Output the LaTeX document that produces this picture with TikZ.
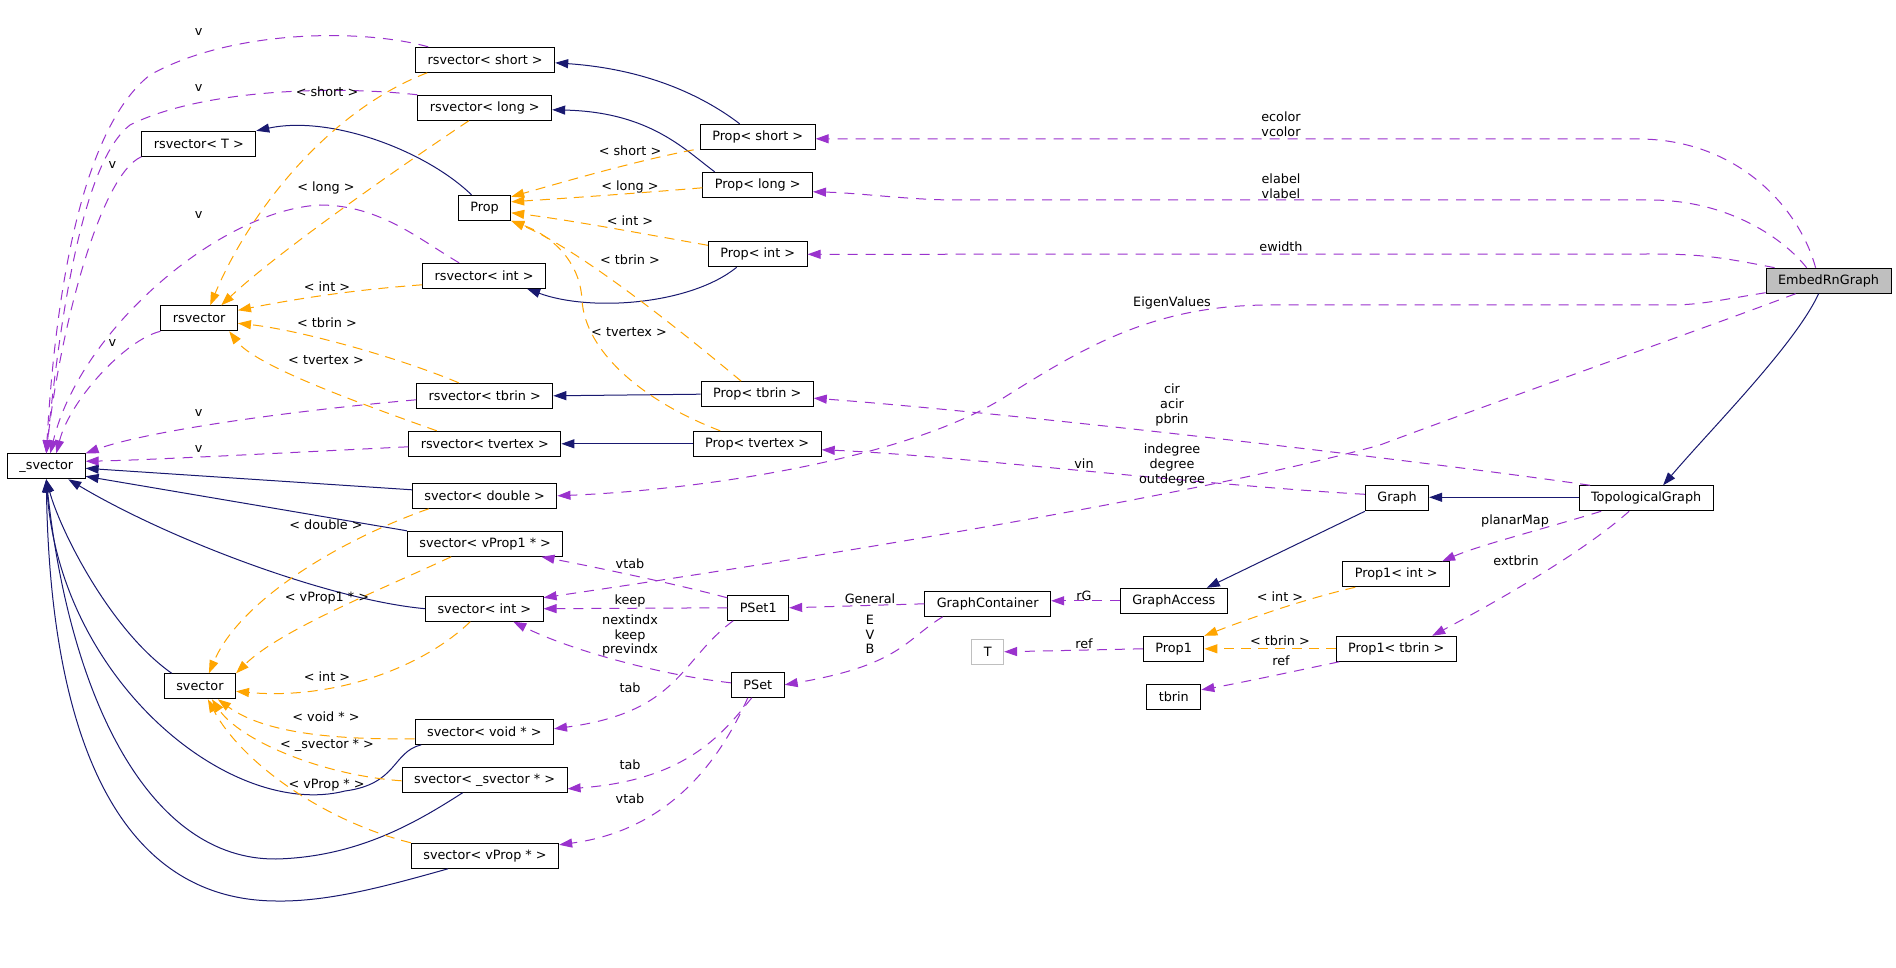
\documentclass[tikz,border=0pt]{standalone}
\usepackage{fontspec}
\setmainfont{DejaVu Sans}
\usetikzlibrary{arrows.meta}
\definecolor{inhblue}{RGB}{25,25,112}
\definecolor{usepurple}{RGB}{154,50,205}
\definecolor{tplorange}{RGB}{255,165,0}
\definecolor{boxgrey}{RGB}{191,191,191}
\newcommand{\dxfont}{\fontsize{12.8}{14.8}\selectfont}
\tikzset{
  cls/.style={rectangle, draw=black, fill=white, font=\dxfont,
    inner xsep=12pt, inner ysep=0pt, minimum height=25pt, line width=1pt},
  curcls/.style={cls, fill=boxgrey},
  extcls/.style={cls, draw=boxgrey},
  inh/.style={-{Triangle[length=13pt,width=9pt]}, color=inhblue, line width=1pt},
  usage/.style={-{Triangle[length=13pt,width=9pt]}, color=usepurple,
    line width=1pt, dash pattern=on 10pt off 8pt},
  tpl/.style={-{Triangle[length=13pt,width=9pt]}, color=tplorange,
    line width=1pt, dash pattern=on 10pt off 7pt},
  lbl/.style={font=\dxfont, inner sep=0pt, align=center}
}
\begin{document}
\begin{tikzpicture}[x=1pt, y=-1pt]
  \fill[white] (0,0) rectangle (1896,968);
  \useasboundingbox (0,0) rectangle (1896,968);

  % Templates
  \node[cls] (svec) at (46.3,466.3) {\_svector};
  \node[cls] (rsvT) at (198.8,143.8) {rsvector< T >};
  \node[cls] (rsv)  at (199.2,318.3) {rsvector};
  \node[cls] (sv)   at (199.9,686.3) {svector};
  \node[cls] (prop) at (484.5,207.8) {Prop};

  % rsvector instances
  \node[cls] (rsvshort)   at (485.2,59.8)  {rsvector< short >};
  \node[cls] (rsvlong)    at (484.8,107.8) {rsvector< long >};
  \node[cls] (rsvint)     at (484.1,275.8) {rsvector< int >};
  \node[cls] (rsvtbrin)   at (484.7,395.8) {rsvector< tbrin >};
  \node[cls] (rsvtvertex) at (484.8,443.8) {rsvector< tvertex >};

  % svector instances
  \node[cls] (svdouble) at (484.7,495.8) {svector< double >};
  \node[cls] (svvprop1) at (485.2,543.8) {svector< vProp1 * >};
  \node[cls] (svint)    at (484.3,608.7) {svector< int >};
  \node[cls] (svvoid)   at (484.3,731.8) {svector< void * >};
  \node[cls] (svsvec)   at (484.6,779.8) {svector< \_svector * >};
  \node[cls] (svvprop)  at (485,855.8)   {svector< vProp * >};

  % Prop instances
  \node[cls] (propshort)   at (757.7,136.8) {Prop< short >};
  \node[cls] (proplong)    at (757.7,184.8) {Prop< long >};
  \node[cls] (propint)     at (757.7,254.3) {Prop< int >};
  \node[cls] (proptbrin)   at (757.2,394.2) {Prop< tbrin >};
  \node[cls] (proptvertex) at (757.2,443.8) {Prop< tvertex >};

  % Sets
  \node[cls] (pset1) at (758.2,607.8) {PSet1};
  \node[cls] (pset)  at (757.8,684.8) {PSet};

  % Graph classes
  \node[cls] (gcont)     at (987.7,603.8)  {GraphContainer};
  \node[cls] (gacc)      at (1173.8,600.8) {GraphAccess};
  \node[extcls] (tT)     at (987.7,651.8)  {T};
  \node[cls] (prop1)     at (1173.6,648.8) {Prop1};
  \node[cls] (tbrin)     at (1173.8,696.8) {tbrin};
  \node[cls] (graph)     at (1397,498.3)   {Graph};
  \node[cls] (prop1int)  at (1396.2,574.3) {Prop1< int >};
  \node[cls] (prop1tbrin) at (1396.2,648.8) {Prop1< tbrin >};
  \node[cls] (topo)      at (1646.1,498.3) {TopologicalGraph};
  \node[curcls] (embed)  at (1828.6,280.7) {EmbedRnGraph};

  % Inheritance
  \draw[inh] ([xshift=-18pt]propshort.north) .. controls (715,105) and (660,70) .. ([yshift=-3pt]rsvshort.east);
  \draw[inh] ([xshift=-43pt]proplong.north) .. controls (685,150) and (650,112) .. ([yshift=-2pt]rsvlong.east);
  \draw[inh] ([xshift=-13pt]prop.north) .. controls (425,150) and (330,115) .. (rsvT.north east);
  \draw[inh] ([xshift=-21pt]propint.south) .. controls (690,305) and (590,312) .. ([xshift=43pt]rsvint.south);
  \draw[inh] (proptbrin.west) -- (rsvtbrin.east);
  \draw[inh] (proptvertex.west) -- (rsvtvertex.east);
  \draw[inh] ([yshift=6pt]svdouble.west) -- ([yshift=-2pt]svec.east);
  \draw[inh] (svvprop1.north west) -- ([yshift=-10pt]svec.east);
  \draw[inh] (svint.west) .. controls (330,600) and (170,540) .. ([xshift=22pt]svec.south);
  \draw[inh] ([xshift=8pt]sv.north west) .. controls (110,630) and (60,530) .. (svec.south);
  \draw[inh] ([xshift=-63pt]svvoid.south) .. controls (392,752) and (398,784) .. (345,791)
    .. controls (230,820) and (60,680) .. (svec.south);
  \draw[inh] ([xshift=-22pt]svsvec.south) .. controls (420,820) and (360,857) .. (276,859)
    .. controls (150,860) and (70,700) .. (svec.south);
  \draw[inh] ([xshift=-37pt]svvprop.south) .. controls (390,885) and (330,902) .. (276,901)
    .. controls (110,900) and (50,720) .. (svec.south);
  \draw[inh] ([yshift=1pt]topo.west) -- ([yshift=1pt]graph.east);
  \draw[inh] (graph.south west) -- ([xshift=33pt]gacc.north);
  \draw[inh] ([xshift=-10pt]embed.south) .. controls (1795,345) and (1710,430) .. ([xshift=17pt]topo.north);

  % Usage
  \draw[usage] ([xshift=13pt]rsvshort.north west) .. controls (360,28) and (230,30) .. (150,75)
    .. controls (80,130) and (55,300) .. (svec.north);
  \draw[usage] (rsvlong.north west) .. controls (330,85) and (200,90) .. (130,125)
    .. controls (85,160) and (62,300) .. (svec.north);
  \draw[usage] (rsvT.south west) .. controls (100,175) and (60,330) .. (svec.north);
  \draw[usage] ([xshift=-25pt]rsvint.north) .. controls (420,240) and (380,205) .. (320,205)
    .. controls (220,210) and (80,330) .. ([xshift=4pt]svec.north);
  \draw[usage] (rsv.south west) .. controls (125,340) and (70,400) .. ([xshift=10pt]svec.north);
  \draw[usage] ([yshift=-4pt]rsvtbrin.west) .. controls (300,410) and (150,430) .. (svec.north east);
  \draw[usage] ([yshift=-3pt]rsvtvertex.west) .. controls (300,452) and (150,460) .. ([yshift=5pt]svec.east);
  \draw[usage] ([xshift=-13pt]embed.north) .. controls (1800,210) and (1740,140) .. (1640,139)
    -- ([yshift=-2pt]propshort.east);
  \draw[usage] ([xshift=-22pt]embed.north) .. controls (1785,240) and (1730,200) .. (1650,200)
    -- (950,200) .. controls (900,199) and (860,193) .. ([yshift=-7pt]proplong.east);
  \draw[usage] ([xshift=-54pt]embed.north) .. controls (1720,257) and (1700,254) .. (1650,254)
    -- (propint.east);
  \draw[usage] ([yshift=1pt]embed.south west) .. controls (1720,300) and (1700,305) .. (1670,305)
    -- (1270,305) .. controls (1150,305) and (1080,350) .. (1000,400)
    .. controls (900,460) and (700,490) .. (svdouble.east);
  \draw[usage] ([xshift=-33pt]embed.south) .. controls (1700,330) and (1500,400) .. (1380,445)
    .. controls (1200,495) and (800,560) .. ([yshift=11pt]svint.east);
  \draw[usage] ([xshift=-56pt]topo.north) .. controls (1400,458) and (1000,412) .. ([yshift=-4pt]proptbrin.east);
  \draw[usage] ([yshift=4pt]graph.west) .. controls (1200,485) and (950,455) .. ([yshift=-6pt]proptvertex.east);
  \draw[usage] ([xshift=-45pt]topo.south) .. controls (1540,530) and (1480,545) .. ([xshift=-8pt]prop1int.north east);
  \draw[usage] ([xshift=-17pt]topo.south) .. controls (1580,555) and (1490,605) .. ([xshift=36pt]prop1tbrin.north);
  \draw[usage] (gacc.west) -- ([yshift=3pt]gcont.east);
  \draw[usage] (prop1.west) -- (tT.east);
  \draw[usage] ([xshift=-57pt]prop1tbrin.south) .. controls (1300,670) and (1240,683) .. ([yshift=7pt]tbrin.east);
  \draw[usage] (gcont.west) -- (pset1.east);
  \draw[usage] ([xshift=-45pt]gcont.south) .. controls (905,640) and (900,665) .. (pset.east);
  \draw[usage] ([yshift=-3pt]pset1.north west) .. controls (680,585) and (600,568) .. ([xshift=-22pt]svvprop1.south east);
  \draw[usage] (pset1.west) -- (svint.east);
  \draw[usage] ([yshift=2pt]pset.west) .. controls (660,675) and (570,650) .. ([xshift=29pt]svint.south);
  \draw[usage] ([xshift=-25pt]pset1.south) .. controls (680,660) and (680,712) .. ([yshift=3pt]svvoid.east);
  \draw[usage] ([xshift=-6pt]pset.south) .. controls (725,730) and (690,780) .. ([yshift=-9pt]svsvec.east);
  \draw[usage] ([xshift=-10pt]pset.south) .. controls (720,760) and (670,830) .. ([yshift=11pt]svvprop.east);

  % Template instances
  \draw[tpl] ([xshift=-58pt]rsvshort.south) .. controls (330,110) and (250,210) .. ([xshift=11pt]rsv.north);
  \draw[tpl] ([xshift=-16pt]rsvlong.south) .. controls (410,160) and (280,250) .. ([xshift=22pt]rsv.north);
  \draw[tpl] ([yshift=-9pt]rsvint.west) .. controls (350,290) and (290,300) .. ([yshift=8pt]rsv.east);
  \draw[tpl] ([xshift=-26pt]rsvtbrin.north) .. controls (400,358) and (300,330) .. ([yshift=-5pt]rsv.east);
  \draw[tpl] ([xshift=-48pt]rsvtvertex.north) .. controls (350,400) and (255,365) .. ([xshift=30pt]rsv.south);
  \draw[tpl] ([xshift=-64pt]propshort.south) .. controls (640,160) and (570,180) .. ([yshift=11pt]prop.east);
  \draw[tpl] ([yshift=-3pt]proplong.west) .. controls (640,193) and (570,198) .. ([yshift=6pt]prop.east);
  \draw[tpl] ([yshift=9pt]propint.west) .. controls (650,235) and (570,220) .. ([yshift=-5pt]prop.east);
  \draw[tpl] ([xshift=-16pt]proptbrin.north) .. controls (680,330) and (580,250) .. (prop.south east);
  \draw[tpl] ([xshift=-37pt]proptvertex.north) .. controls (640,400) and (585,350) .. (582,300)
    .. controls (580,260) and (550,235) .. (prop.south east);
  \draw[tpl] ([xshift=-56pt]svdouble.south) .. controls (340,540) and (240,600) .. ([xshift=9pt]sv.north);
  \draw[tpl] ([xshift=-34pt]svvprop1.south) .. controls (380,590) and (280,630) .. (sv.north east);
  \draw[tpl] ([xshift=-14pt]svint.south) .. controls (420,670) and (330,700) .. ([yshift=-5pt]sv.east);
  \draw[tpl] ([yshift=-7pt]svvoid.west) .. controls (320,740) and (260,730) .. ([xshift=18pt]sv.south);
  \draw[tpl] ([yshift=-1pt]svsvec.west) .. controls (320,775) and (240,740) .. ([xshift=12pt]sv.south);
  \draw[tpl] (svvprop.north west) .. controls (320,820) and (240,760) .. ([xshift=8pt]sv.south);
  \draw[tpl] ([xshift=-41pt]prop1int.south) .. controls (1300,600) and (1240,622) .. (prop1.north east);
  \draw[tpl] (prop1tbrin.west) -- (prop1.east);

  % Labels
  \node[lbl] (lv1) at (198.6,32.3) {v};
  \node[lbl] (lv2) at (198.6,87.7) {v};
  \node[lbl] (lv3) at (112.5,165) {v};
  \node[lbl] (lv4) at (198.6,215) {v};
  \node[lbl] (lv5) at (112.5,343.3) {v};
  \node[lbl] (lv6) at (198.6,413.3) {v};
  \node[lbl] (lv7) at (198.6,449.3) {v};
  \node[lbl] (lrshort)   at (327,91.7)  {< short >};
  \node[lbl] (lrlong)    at (326,187.7) {< long >};
  \node[lbl] (lrint)     at (327,286.7) {< int >};
  \node[lbl] (lrtbrin)   at (327,322.7) {< tbrin >};
  \node[lbl] (lrtvertex) at (326,360)   {< tvertex >};
  \node[lbl] (lpshort)   at (630,150.7) {< short >};
  \node[lbl] (lplong)    at (630,186.7) {< long >};
  \node[lbl] (lpint)     at (630,220.7) {< int >};
  \node[lbl] (lptbrin)   at (630,259.3) {< tbrin >};
  \node[lbl] (lptvertex) at (629,331.7) {< tvertex >};
  \node[lbl] (lsdouble)  at (326,525)   {< double >};
  \node[lbl] (lsvprop1)  at (327,598.3) {< vProp1 * >};
  \node[lbl] (lsint)     at (327,676.7) {< int >};
  \node[lbl] (lsvoid)    at (326,716.7) {< void * >};
  \node[lbl] (lssvec)    at (327,745)   {< \_svector * >};
  \node[lbl] (lsvprop)   at (326.6,785) {< vProp * >};
  \node[lbl] (lp1int)    at (1280,596.7) {< int >};
  \node[lbl] (lp1tbrin)  at (1280,640.7) {< tbrin >};
  \node[lbl] (lcolor)    at (1281,124)   {ecolor\\vcolor};
  \node[lbl] (llabel)    at (1281,186)   {elabel\\vlabel};
  \node[lbl] (lwidth)    at (1281,247)   {ewidth};
  \node[lbl] (leigen)    at (1172,302.7) {EigenValues};
  \node[lbl] (lcir)      at (1172,405)   {cir\\acir\\pbrin};
  \node[lbl] (ldegree)   at (1172,465)   {indegree\\degree\\outdegree};
  \node[lbl] (lvin)      at (1084,463.7) {vin};
  \node[lbl] (lplanar)   at (1515,521)   {planarMap};
  \node[lbl] (lextbrin)  at (1516,560.7) {extbrin};
  \node[lbl] (lrg)       at (1084,595.7) {rG};
  \node[lbl] (lref1)     at (1084,643.3) {ref};
  \node[lbl] (lref2)     at (1281,660.7) {ref};
  \node[lbl] (lgeneral)  at (870,599)    {General};
  \node[lbl] (levb)      at (870,634.5)  {E\\V\\B};
  \node[lbl] (lvtab1)    at (630,564)    {vtab};
  \node[lbl] (lkeep)     at (630,601)    {keep};
  \node[lbl] (lindx)     at (630,635.5)  {nextindx\\keep\\previndx};
  \node[lbl] (ltab1)     at (630,687.7)  {tab};
  \node[lbl] (ltab2)     at (630,764.7)  {tab};
  \node[lbl] (lvtab2)    at (630,799)    {vtab};
\end{tikzpicture}
\end{document}
